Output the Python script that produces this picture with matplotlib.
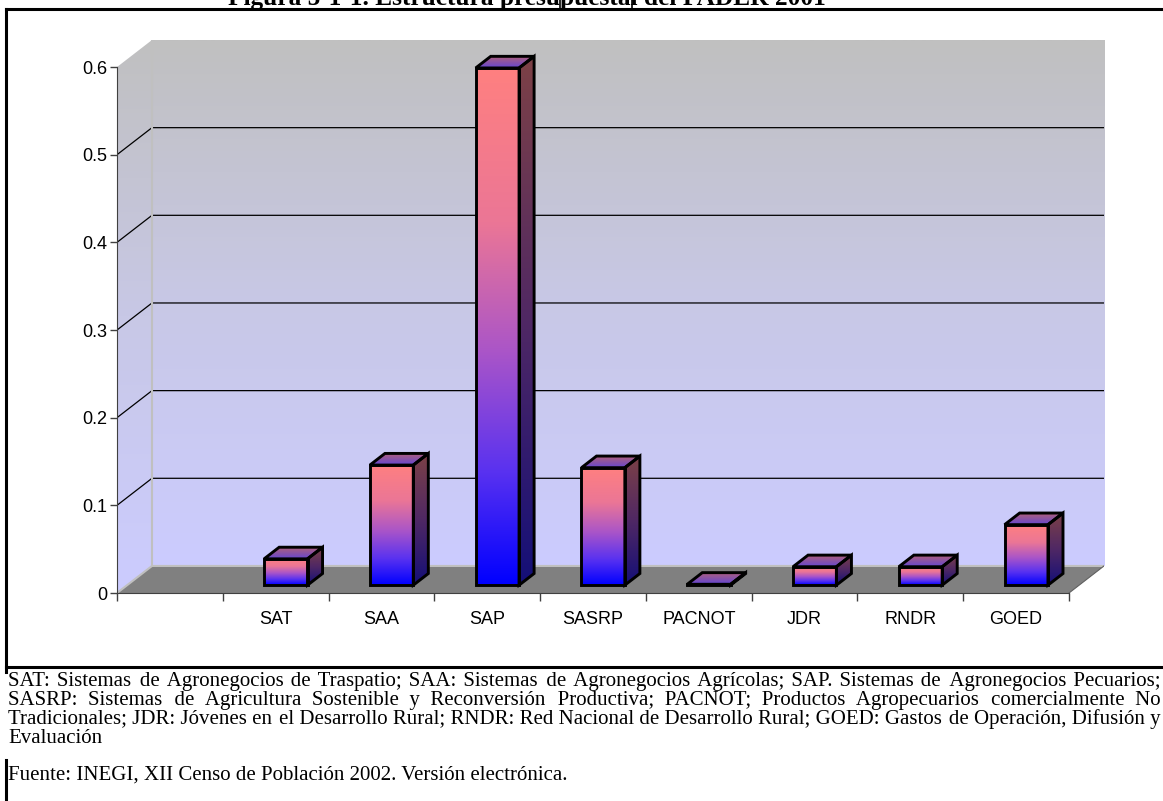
import numpy as np
import matplotlib
matplotlib.use("Agg")
import matplotlib.pyplot as plt
from matplotlib.patches import Polygon
from matplotlib.lines import Line2D
from matplotlib.colors import LinearSegmentedColormap
from matplotlib.font_manager import FontProperties

# data
categories = ["", "SAT", "SAA", "SAP", "SASRP", "PACNOT", "JDR", "RNDR", "GOED"]
values = [None, 0.030, 0.137, 0.590, 0.134, 0.001, 0.021, 0.021, 0.069]
y_ticks = [0, 0.1, 0.2, 0.3, 0.4, 0.5, 0.6]
y_tick_labels = ["0", "0.1", "0.2", "0.3", "0.4", "0.5", "0.6"]

title = "Figura 5-1-1. Estructura presupuestal del PADER 2001"
caption_lines = [
    "SAT: Sistemas de Agronegocios de Traspatio; SAA: Sistemas de Agronegocios Agrícolas; SAP. Sistemas de Agronegocios Pecuarios;",
    "SASRP: Sistemas de Agricultura Sostenible y Reconversión Productiva; PACNOT; Productos Agropecuarios comercialmente No",
    "Tradicionales; JDR: Jóvenes en el Desarrollo Rural; RNDR: Red Nacional de Desarrollo Rural; GOED: Gastos de Operación, Difusión y",
    "Evaluación",
]
source = "Fuente: INEGI, XII Censo de Población 2002. Versión electrónica."

W, H = 1163, 801
fig = plt.figure(figsize=(W / 100, H / 100), dpi=100)
plt.rcParams["font.family"] = ["Liberation Sans", "DejaVu Sans"]

ax = fig.add_axes([117 / W, (H - 593) / H, (1104 - 117) / W, (593 - 40) / H])
n = len(categories)
ymax = 0.6
DX = 35 / 105.8      # depth offset in category units
DY = 27 / 875        # depth offset in value units
ax.set_xlim(0, n + DX)
ax.set_ylim(0, ymax + DY)
ax.set_autoscale_on(False)
ax.patch.set_visible(False)

grad = np.linspace(0, 1, 256).reshape(-1, 1)


def cmap_of(stops):
    return LinearSegmentedColormap.from_list("c", stops)


def grad_poly(verts, cmap, z, edge="black", lw=2.1):
    poly = Polygon(verts, closed=True, facecolor="none", edgecolor=edge,
                   lw=lw, joinstyle="miter", zorder=z + 0.5)
    ax.add_patch(poly)
    xs = [p[0] for p in verts]
    ys = [p[1] for p in verts]
    if max(ys) - min(ys) < 1e-6:
        return
    im = ax.imshow(grad, extent=[min(xs), max(xs), min(ys), max(ys)], origin="lower",
                   cmap=cmap, aspect="auto", interpolation="bilinear", zorder=z)
    im.set_clip_path(poly)


wall_cmap = cmap_of(["#ccccff", "#c8c8e6", "#c0c0c0"])
front_cmap = cmap_of([(0, "#0000ff"), (0.22, "#5a32f0"), (0.45, "#aa55c8"),
                      (0.7, "#eb7696"), (1, "#ff8080")])
side_cmap = cmap_of([(0, "#140f78"), (0.5, "#502864"), (1, "#7d4146")])
top_cmap = cmap_of(["#6446d2", "#b0607a"])

# walls
im = ax.imshow(grad, extent=[DX, n + DX, DY, ymax + DY], origin="lower", cmap=wall_cmap,
               aspect="auto", zorder=0)
left_wall = Polygon([(0, 0), (DX, DY), (DX, ymax + DY), (0, ymax)], closed=True,
                    facecolor="none", edgecolor="none")
ax.add_patch(left_wall)
im2 = ax.imshow(grad, extent=[0, DX, 0, ymax + DY], origin="lower", cmap=wall_cmap,
                aspect="auto", zorder=0)
im2.set_clip_path(left_wall)

ax.add_patch(Polygon([(0, 0), (n, 0), (n + DX, DY), (DX, DY)], closed=True,
                     facecolor="#808080", edgecolor="none", zorder=1))
ax.plot([DX, DX], [DY, ymax + DY], color="#c0c0c0", lw=1.5, zorder=1.2)
ax.plot([0, DX, n + DX], [0, DY, DY], color="#c0c0c0", lw=1.5, zorder=1.2)
ax.plot([n, n + DX], [0, DY], color="#606060", lw=0.8, zorder=1.2)

for v in y_ticks[1:-1]:
    ax.plot([0, DX, n + DX], [v, v + DY, v + DY], color="black", lw=0.9, zorder=1.1)

# bars
bw = 0.41
f0, f1 = 0.29, 0.72
ddx, ddy = (f1 - f0) * DX, (f1 - f0) * DY
for i, v in enumerate(values):
    if v is None:
        continue
    xl = i + 0.5 - bw / 2 + f0 * DX
    xr = xl + bw
    y0 = f0 * DY
    y1 = v + f0 * DY
    z = 3 + i
    grad_poly([(xl, y0), (xr, y0), (xr, y1), (xl, y1)], front_cmap, z)
    grad_poly([(xr, y0), (xr + ddx, y0 + ddy), (xr + ddx, y1 + ddy), (xr, y1)], side_cmap, z)
    grad_poly([(xl, y1), (xr, y1), (xr + ddx, y1 + ddy), (xl + ddx, y1 + ddy)], top_cmap, z)

# axes
for s in ["top", "right"]:
    ax.spines[s].set_visible(False)
ax.spines["left"].set_bounds(0, ymax)
ax.spines["bottom"].set_bounds(0, n)
ax.spines["left"].set_color("#404040")
ax.spines["bottom"].set_color("#404040")
ax.spines["left"].set_zorder(2)
ax.set_yticks(y_ticks)
ax.set_yticklabels(y_tick_labels, fontsize=13)
ax.tick_params(axis="y", direction="out", length=5, width=1, color="#404040", pad=2)
ax.set_xticks(np.arange(n + 1))
ax.set_xticklabels([])
ax.set_xticks(np.arange(n) + 0.5, minor=True)
ax.set_xticklabels(categories, minor=True, fontsize=13)
ax.tick_params(axis="x", which="major", direction="out", length=6, width=1, color="#404040")
ax.tick_params(axis="x", which="minor", length=0, pad=13)

# frame around the figure
def fig_line(x, y, lw):
    fig.add_artist(Line2D([p / W for p in x], [1 - p / H for p in y], color="black",
                          lw=lw, transform=fig.transFigure))

fig_line([6, W], [8.5, 8.5], 2.2)
fig_line([6, W], [667, 667], 2.2)
fig_line([6, 6], [8.5, 672], 2.2)
fig_line([6, 6], [760, H], 2.2)
fig_line([560, 560], [0, 8.5], 1.2)
fig_line([632, 632], [0, 8.5], 1.2)

fig.text(527 / W, 1 - 5 / H, title, ha="center", va="baseline", fontsize=18.3,
         fontweight="bold", family="Liberation Serif")

# justified caption: one text per line, gaps padded with hair spaces
renderer = fig.canvas.get_renderer()
serif = ["Liberation Serif", "DejaVu Serif"]
x0, x1 = 8, 1160
cap_fs = 15.0


def measure(s, fs):
    fp = FontProperties(family=serif, size=fs)
    return renderer.get_text_width_height_descent(s, fp, ismath=False)[0]


# shrink the caption font until every justified line still fits with normal spaces
for _ in range(15):
    sp_w = measure("a a", cap_fs) - measure("aa", cap_fs)
    ok = True
    for line in caption_lines[:-1]:
        words = line.split(" ")
        gap = (x1 - x0 - sum(measure(w, cap_fs) for w in words)) / (len(words) - 1)
        if gap < sp_w:
            ok = False
    if ok:
        break
    cap_fs -= 0.2


def justify(line, fs, width):
    words = line.split(" ")
    nat = [measure(w, fs) for w in words]
    g = (width - sum(nat)) / (len(words) - 1)
    s = words[0]
    for i in range(1, len(words)):
        target = sum(nat[:i + 1]) + g * i
        pad = " "
        while measure(s + pad + words[i], fs) < target - 0.6 and len(pad) < 60:
            pad += "\u200a"
        s = s + pad + words[i]
    return s


baselines = [686, 705, 724, 743]
for k, line in enumerate(caption_lines):
    txt = justify(line, cap_fs, x1 - x0) if k < len(caption_lines) - 1 else line
    fig.text(x0 / W, 1 - baselines[k] / H, txt, fontsize=cap_fs, family=serif,
             va="baseline", ha="left")

fig.text(x0 / W, 1 - 780 / H, source, fontsize=cap_fs, family=serif,
         va="baseline", ha="left")

fig.savefig("out.png", dpi=100)
